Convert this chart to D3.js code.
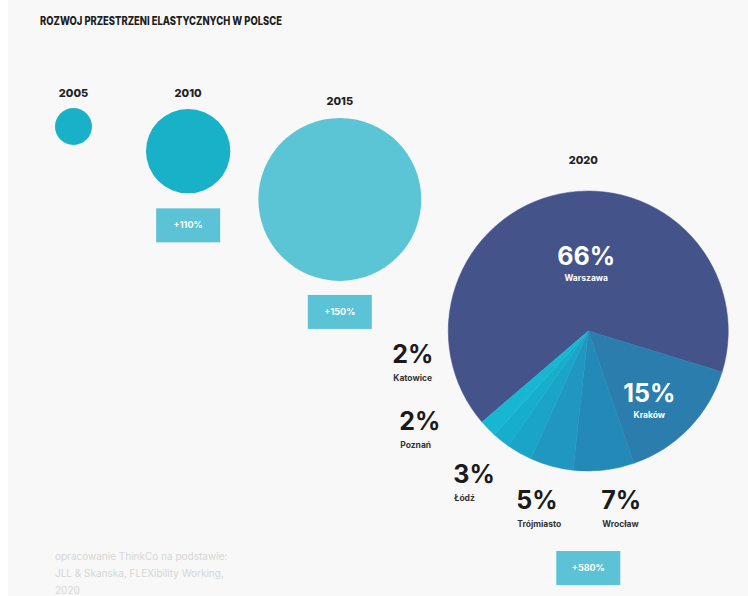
<!DOCTYPE html>
<html lang="pl">
<head>
<meta charset="UTF-8">
<title>Rozwój przestrzeni elastycznych w Polsce</title>
<script src="https://d3js.org/d3.v7.min.js"></script>
<style>
  body { margin: 0; background: #f8f8f8; font-family: Inter, "Noto Sans", sans-serif; }
  svg { display: block; }
  .year { font-size: 11px; font-weight: 800; fill: #222; text-anchor: middle; }
  .growth { font-size: 9px; font-weight: 700; fill: #fff; text-anchor: middle; }
  .pct { font-size: 25px; font-weight: 700; }
  .city { font-size: 8.5px; font-weight: 700; }
  .note { font-size: 10px; fill: #d6d6d6; }
</style>
</head>
<body>
<div id="chart"></div>
<script>
// dane
const years = ["2005", "2010", "2015", "2020"];
const bubbleIndex = [1, 5.2, 19.4, 57.3];      // względna powierzchnia (odczyt z rysunku)
const growthLabels = [null, "+110%", "+150%", "+580%"];
const cities = ["Warszawa", "Kraków", "Wrocław", "Trójmiasto", "Łódź", "Poznań", "Katowice"];
const shares = [66, 15, 7, 5, 3, 2, 2];
const sliceColors = ["#44548a", "#2a7dad", "#2389b7", "#1f97c0", "#1aa4c8", "#17aecc", "#18b7d1"];
const noteLines = ["opracowanie ThinkCo na podstawie:", "JLL & Skanska, FLEXibility Working,", "2020"];

const W = 748, H = 596;
const svg = d3.select("#chart").append("svg").attr("width", W).attr("height", H);

svg.append("rect").attr("width", 8).attr("height", H).attr("fill", "#fff");

// tytuł
svg.append("text")
  .attr("x", 40).attr("y", 25)
  .attr("textLength", 242).attr("lengthAdjust", "spacingAndGlyphs")
  .style("font-size", "11.5px").style("font-weight", 800).style("fill", "#1e1e1e")
  .text("ROZWOJ PRZESTRZENI ELASTYCZNYCH W POLSCE");

// skala promienia
const r = d3.scaleSqrt().domain([0, d3.max(bubbleIndex)]).range([0, 140]);

// układ: odstępy między kołami, górne krawędzie, pozycje etykiet
const layout = {
  startX: 55,
  gaps: [0, 54, 28, 27],
  tops: [108, 109, 118, 191],
  yearBase: [97, 97, 105, 164],
  boxGap: [0, 15, 14, 80],
  boxW: 64, boxH: 34
};

const bubbles = [];
let edge = layout.startX;
years.forEach((y, i) => {
  const rad = r(bubbleIndex[i]);
  edge += layout.gaps[i];
  const cx = edge + rad;
  edge = cx + rad;
  bubbles.push({ year: y, rad, cx, cy: layout.tops[i] + rad, growth: growthLabels[i], i });
});

// koła 2005-2015
svg.selectAll("circle.bubble")
  .data(bubbles.slice(0, 3))
  .join("circle")
  .attr("class", "bubble")
  .attr("cx", d => d.cx).attr("cy", d => d.cy).attr("r", d => d.rad)
  .attr("fill", d => d.i < 2 ? "#19b1c7" : "#5bc5d6");

svg.selectAll("text.year")
  .data(bubbles)
  .join("text")
  .attr("class", "year")
  .attr("x", d => d.cx - (d.i === 3 ? 5 : 0))
  .attr("y", d => layout.yearBase[d.i])
  .text(d => d.year);

const boxes = svg.selectAll("g.box")
  .data(bubbles.filter(d => d.growth))
  .join("g")
  .attr("class", "box")
  .attr("transform", d => `translate(${d.cx},${d.cy + d.rad + layout.boxGap[d.i]})`);
boxes.append("rect")
  .attr("x", -layout.boxW / 2).attr("width", layout.boxW).attr("height", layout.boxH)
  .attr("fill", "#5bc3d5");
boxes.append("text")
  .attr("class", "growth")
  .attr("y", layout.boxH / 2 + 3)
  .text(d => d.growth);

// wykres kołowy 2020
const p = bubbles[3];
const start = -130.6 * Math.PI / 180;
const pie = d3.pie().sort(null).startAngle(start).endAngle(start + 2 * Math.PI);
const arc = d3.arc().innerRadius(0).outerRadius(p.rad);
const arcs = pie(shares);

const g = svg.append("g").attr("transform", `translate(${p.cx},${p.cy})`);
g.selectAll("path")
  .data(arcs)
  .join("path")
  .attr("d", arc)
  .attr("fill", (d, i) => sliceColors[i])
  .attr("stroke", (d, i) => sliceColors[i])
  .attr("stroke-width", 0.5);

// etykiety (przesunięcia względem środka koła)
const labelPos = [
  { dx: -2, dy: -66, anchor: "middle", inside: true },
  { dx: 61, dy: 71, anchor: "middle", inside: true },
  { dx: 13, dy: 178, anchor: "start" },
  { dx: -72, dy: 178, anchor: "start" },
  { dx: -135, dy: 152, anchor: "start" },
  { dx: -189, dy: 99, anchor: "start" },
  { dx: -196, dy: 32, anchor: "start" }
];

const labels = g.selectAll("g.lab")
  .data(arcs)
  .join("g")
  .attr("class", "lab")
  .attr("transform", (d, i) => `translate(${labelPos[i].dx},${labelPos[i].dy})`)
  .attr("text-anchor", (d, i) => labelPos[i].anchor);
labels.append("text")
  .attr("class", "pct")
  .attr("fill", (d, i) => labelPos[i].inside ? "#fff" : "#1b1b1b")
  .text(d => d.data + "%");
labels.append("text")
  .attr("class", "city")
  .attr("x", (d, i) => labelPos[i].inside ? 0 : 1)
  .attr("y", (d, i) => labelPos[i].inside ? 16 : 18)
  .attr("fill", (d, i) => labelPos[i].inside ? "#fff" : "#333")
  .text((d, i) => cities[i]);

// źródło
svg.selectAll("text.note")
  .data(noteLines)
  .join("text")
  .attr("class", "note")
  .attr("x", 55)
  .attr("y", (d, i) => 560 + i * 17)
  .text(d => d);
</script>
</body>
</html>
